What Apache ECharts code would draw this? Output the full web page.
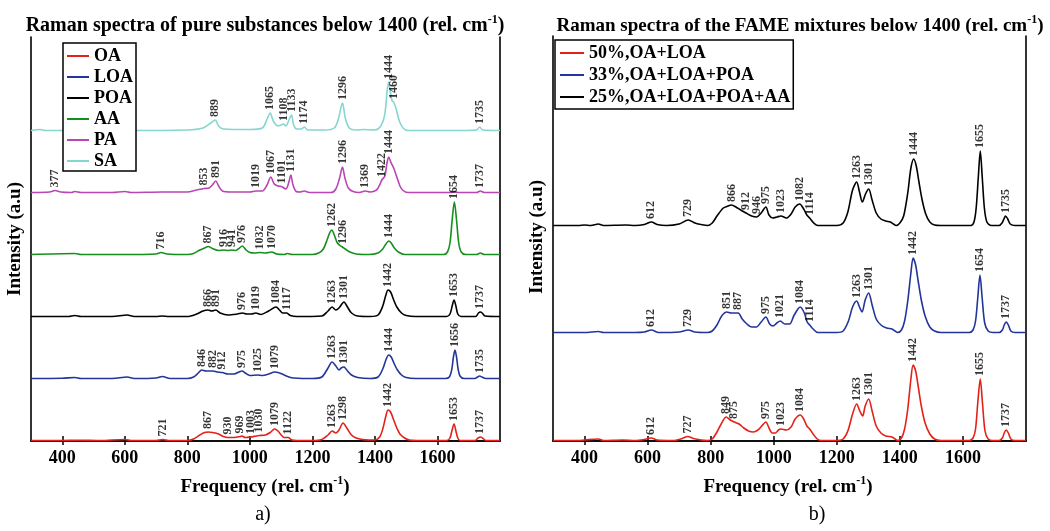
<!DOCTYPE html>
<html><head><meta charset="utf-8">
<script src="https://cdn.jsdelivr.net/npm/echarts@6/dist/echarts.min.js"></script>
<style>html,body{margin:0;padding:0;background:#fff}#c{width:1050px;height:531px}</style>
</head><body><div id="c"></div>
<script>
// ---------- data (intensities in arbitrary units above each curve's baseline) ----------
const TICKS = [400, 600, 800, 1000, 1200, 1400, 1600];

// Panel a) pure substances
const OA = [[300,0.5],[400,0.5],[450,0.8],[520,0.5],[600,1.5],[620,0.5],[700,0.5],[721,1.5],[740,0.5],[800,0.5],[820,2],[840,6],[855,8.5],[867,9],[880,8.5],[900,7],[915,4.5],[930,3.5],[950,3.5],[969,4.5],[975,5],[985,3.5],[1003,4],[1020,5],[1030,5.5],[1050,6],[1065,8.5],[1079,12],[1090,10],[1100,6],[1110,3.5],[1122,3.5],[1135,1],[1150,0.5],[1200,0.5],[1230,1.5],[1250,6],[1263,10],[1275,8],[1285,11],[1298,18],[1310,13],[1325,6],[1340,3],[1360,1.5],[1380,1],[1400,1],[1415,4],[1425,12],[1435,25],[1442,31],[1450,29],[1460,21],[1470,13],[1480,7],[1495,3],[1510,1],[1550,0.5],[1630,0.5],[1640,3],[1646,10],[1653,17],[1659,10],[1665,3],[1672,0.5],[1720,0.5],[1730,3],[1737,4],[1744,3],[1755,0.5],[1800,0.5]];
const LOA = [[300,0.5],[400,0.8],[440,1.5],[460,0.5],[560,0.5],[608,2],[630,0.5],[700,1],[720,2.5],[745,0.5],[800,0.5],[820,2],[835,6],[846,9],[860,8],[882,8],[895,7],[912,6.5],[930,5],[950,5],[965,7],[975,8],[985,6],[1000,3.5],[1025,4],[1040,3.5],[1060,5],[1079,7],[1095,6],[1110,4],[1125,2],[1140,1],[1200,0.5],[1230,2],[1250,11],[1263,17],[1275,13],[1285,9],[1292,11],[1301,12],[1310,9],[1325,4],[1345,1.5],[1385,0.5],[1410,2],[1425,10],[1435,19],[1444,24],[1452,22],[1462,15],[1472,9],[1485,4],[1500,1.5],[1530,0.5],[1625,0.5],[1638,2],[1646,10],[1651,22],[1656,29],[1661,22],[1666,10],[1672,3],[1685,0.5],[1720,0.5],[1728,2],[1735,3],[1742,2],[1755,0.5],[1800,0.5]];
const POA = [[300,0.5],[420,0.5],[440,1.5],[460,0.5],[560,0.5],[608,2],[630,0.5],[700,0.5],[720,1],[740,0.5],[800,0.5],[830,3],[850,6],[866,7],[878,6],[891,7],[905,4],[930,2],[960,3],[976,4],[990,3],[1005,3],[1019,4],[1035,2.5],[1060,6],[1084,10],[1095,7],[1105,4],[1117,4],[1130,1.5],[1150,0.5],[1230,1],[1250,6],[1263,10],[1275,7],[1285,9],[1301,15],[1312,10],[1325,4],[1345,1],[1385,0.5],[1410,2],[1425,11],[1435,22],[1442,27],[1450,25],[1460,17],[1470,10],[1485,4],[1500,1.5],[1530,0.5],[1630,0.5],[1640,3],[1647,11],[1653,17],[1659,11],[1665,3],[1675,0.5],[1722,0.5],[1731,4],[1737,5],[1743,4],[1752,1],[1800,0.5]];
const AA = [[300,0.5],[440,1.5],[460,0.5],[600,0.5],[700,1],[716,2.5],[735,1],[800,0.5],[820,1.5],[840,5],[855,7],[867,8.5],[880,6.5],[900,4.5],[916,5],[930,4.5],[941,5],[955,4.5],[965,6.5],[976,9],[988,5],[1000,2.5],[1015,2],[1032,2.5],[1050,2],[1070,3],[1085,1],[1110,0.5],[1120,1.5],[1135,0.5],[1200,0.5],[1220,2],[1235,6],[1248,16],[1255,22],[1262,25],[1270,20],[1280,12],[1290,9],[1296,8],[1305,6],[1320,3],[1340,1],[1380,0.5],[1410,2],[1425,6],[1435,11],[1444,14],[1452,12],[1462,7],[1475,3],[1495,0.5],[1620,0.5],[1632,3],[1640,12],[1647,35],[1654,53],[1661,35],[1668,12],[1676,3],[1690,0.5],[1725,0.5],[1737,2],[1750,0.5],[1800,0.5]];
const PA = [[300,0.5],[360,1],[377,2.5],[395,1],[430,0.5],[440,1.5],[460,0.5],[560,0.5],[600,1.5],[620,0.5],[720,1],[800,1],[830,3],[853,4.5],[870,5],[880,8],[891,12],[900,7],[912,2],[940,1],[1000,1],[1019,2],[1040,2],[1055,8],[1067,16],[1078,9],[1090,7],[1101,6.5],[1115,4],[1124,10],[1131,18],[1138,8],[1148,1.5],[1160,1],[1174,2],[1190,0.5],[1260,0.5],[1275,4],[1287,15],[1296,26],[1304,15],[1315,5],[1330,1.5],[1350,0.5],[1369,2],[1385,1],[1405,3],[1415,8],[1422,13],[1432,17],[1438,29],[1444,36],[1452,30],[1460,25],[1470,16],[1480,7],[1490,2.5],[1505,0.5],[1640,0.5],[1654,1],[1670,0.5],[1725,0.5],[1737,2],[1750,0.5],[1800,0.5]];
const SA = [[300,0.5],[330,1.5],[345,0.5],[600,0.5],[800,1],[850,3],[875,8],[889,11],[900,5],[915,2],[1000,1.5],[1040,3],[1055,12],[1065,18],[1075,10],[1090,5],[1100,6],[1108,7],[1115,5],[1125,11],[1133,16],[1140,6],[1150,2],[1165,2],[1174,4],[1185,1],[1240,1],[1270,3],[1283,12],[1296,28],[1306,12],[1318,3],[1340,1],[1366,1.5],[1390,1],[1410,2],[1425,9],[1433,20],[1439,40],[1444,49],[1449,40],[1455,30],[1460,29],[1468,22],[1478,10],[1490,3],[1505,0.5],[1650,0.5],[1725,1],[1735,4],[1745,1],[1800,0.5]];

const OA_PEAKS = [721, 867, 930, 969, 1003, 1030, 1079, 1122, 1263, 1298, 1442, 1653, 1737];
const LOA_PEAKS = [846, 882, 912, 975, 1025, 1079, 1263, 1301, 1444, 1656, 1735];
const POA_PEAKS = [866, 891, 976, 1019, 1084, 1117, 1263, 1301, 1442, 1653, 1737];
const AA_PEAKS = [716, 867, 916, 941, 976, 1032, 1070, 1262, 1296, 1444, 1654];
const PA_PEAKS = [377, 853, 891, 1019, 1067, 1101, 1131, 1296, 1369, 1422, 1444, 1737];
const SA_PEAKS = [889, 1065, 1108, 1133, 1174, 1296, 1444, 1460, 1735];

// Panel b) FAME mixtures
const MIX2 = [[300,0.5],[380,0.5],[400,1],[444,2],[460,0.5],[520,1],[560,0.5],[590,1.5],[612,3],[630,1],[680,0.5],[710,2.5],[727,4.5],[745,2.5],[770,1],[790,0.5],[805,2],[820,9],[835,18],[849,24],[862,21],[875,19],[890,17],[905,13],[920,10],[935,9],[950,11],[962,15],[975,19],[985,13],[995,8],[1005,8],[1015,11],[1023,12],[1040,11],[1055,14],[1068,22],[1084,26],[1095,22],[1105,15],[1114,12],[1125,7],[1138,2],[1150,0.5],[1200,0.5],[1220,2],[1235,10],[1250,27],[1263,37],[1273,30],[1282,25],[1290,35],[1301,42],[1312,30],[1325,15],[1340,8],[1355,5],[1375,4],[1385,2],[1393,0.5],[1405,3],[1415,12],[1425,32],[1435,62],[1442,76],[1450,70],[1458,55],[1468,35],[1480,18],[1495,7],[1510,2],[1530,0.5],[1620,0.5],[1632,3],[1640,12],[1647,38],[1655,62],[1662,38],[1670,10],[1680,2],[1695,0.5],[1715,0.5],[1725,3],[1731,8],[1737,11],[1744,8],[1752,2],[1765,0.5],[1800,0.5]];
const MIX3 = [[300,0.5],[400,0.5],[444,1.5],[460,0.5],[560,0.5],[590,1],[612,3],[635,0.5],[700,1],[729,3],[750,1],[790,0.5],[805,2],[820,8],[835,17],[851,21],[865,20],[887,20],[900,14],[915,9],[930,6],[945,6],[960,11],[975,16],[987,9],[998,7],[1010,10],[1021,12],[1035,9],[1050,9],[1065,18],[1084,26],[1097,20],[1106,11],[1114,8],[1125,4],[1140,0.5],[1200,0.5],[1220,2],[1237,12],[1250,26],[1263,32],[1272,26],[1280,21],[1290,33],[1301,40],[1312,28],[1325,14],[1340,8],[1358,5],[1375,4],[1385,2],[1393,0.5],[1405,3],[1415,12],[1425,32],[1435,60],[1442,75],[1450,68],[1458,52],[1468,33],[1480,17],[1495,6],[1510,2],[1530,0.5],[1620,0.5],[1632,3],[1640,12],[1647,35],[1654,58],[1661,35],[1669,10],[1680,2],[1695,0.5],[1715,0.5],[1725,3],[1731,8],[1737,11],[1744,8],[1752,2],[1765,0.5],[1800,0.5]];
const MIX4 = [[300,0.5],[380,0.5],[400,1],[420,0.5],[444,2],[460,0.5],[530,1],[560,0.5],[590,1.5],[612,4],[630,1.5],[660,0.5],[700,2],[729,6],[750,3],[770,1.5],[790,0.5],[805,3],[820,10],[840,18],[855,20],[866,21],[880,19],[895,16],[912,13],[930,10],[946,9],[960,13],[975,19],[985,11],[997,8],[1010,9],[1023,10],[1040,8],[1055,12],[1068,19],[1082,22],[1095,17],[1105,11],[1114,8],[1127,3],[1140,0.5],[1200,0.5],[1220,3],[1235,14],[1250,36],[1263,44],[1272,34],[1281,24],[1291,32],[1301,37],[1312,26],[1325,13],[1340,7],[1355,5],[1370,4],[1380,2],[1388,0.5],[1400,3],[1412,10],[1425,33],[1435,58],[1444,67],[1452,60],[1460,45],[1470,27],[1482,12],[1495,4],[1510,1],[1530,0.5],[1625,0.5],[1635,4],[1642,18],[1649,50],[1655,75],[1661,50],[1668,18],[1676,4],[1690,0.5],[1715,0.5],[1724,3],[1730,7],[1735,10],[1742,7],[1750,2],[1765,0.5],[1800,0.5]];

const MIX2_PEAKS = [612, 727, 849, 875, 975, 1023, 1084, 1263, 1301, 1442, 1655, 1737];
const MIX3_PEAKS = [612, 729, 851, 887, 975, 1021, 1084, 1114, 1263, 1301, 1442, 1654, 1737];
const MIX4_PEAKS = [612, 729, 866, 912, 946, 975, 1023, 1082, 1114, 1263, 1301, 1444, 1655, 1735];

const LEFT_NAMES = ['OA', 'LOA', 'POA', 'AA', 'PA', 'SA'];
const RIGHT_NAMES = ['50%,OA+LOA', '33%,OA+LOA+POA', '25%,OA+LOA+POA+AA'];

// ---------- build ----------
const SERIF = '"Liberation Serif", "Times New Roman", serif';
function valAt(arr, x) {
  for (let i = 0; i < arr.length - 1; i++) {
    const a = arr[i], b = arr[i + 1];
    if (x >= a[0] && x <= b[0]) return a[1] + (b[1] - a[1]) * (x - a[0]) / (b[0] - a[0]);
  }
  return 0;
}
const leftCurves = [
  { name: 'OA', data: OA, peaks: OA_PEAKS, color: '#e32119', off: 0 },
  { name: 'LOA', data: LOA, peaks: LOA_PEAKS, color: '#23349b', off: 62 },
  { name: 'POA', data: POA, peaks: POA_PEAKS, color: '#000000', off: 124 },
  { name: 'AA', data: AA, peaks: AA_PEAKS, color: '#16901c', off: 186 },
  { name: 'PA', data: PA, peaks: PA_PEAKS, color: '#b946b4', off: 248 },
  { name: 'SA', data: SA, peaks: SA_PEAKS, color: '#84d6d0', off: 310 }
];
const rightCurves = [
  { name: RIGHT_NAMES[0], data: MIX2, peaks: MIX2_PEAKS, color: '#e32119', off: 0 },
  { name: RIGHT_NAMES[1], data: MIX3, peaks: MIX3_PEAKS, color: '#23349b', off: 108 },
  { name: RIGHT_NAMES[2], data: MIX4, peaks: MIX4_PEAKS, color: '#000000', off: 215 }
];
const series = [];
function addCurves(curves, idx) {
  curves.forEach(c => {
    series.push({
      type: 'line', name: c.name, xAxisIndex: idx * 2, yAxisIndex: idx * 2,
      data: c.data.map(p => [p[0], p[1] + c.off]),
      symbol: 'none', showSymbol: false, smooth: 0.3, clip: false,
      lineStyle: { color: c.color, width: 1.6 }, itemStyle: { color: c.color },
      z: 3, animation: false
    });
  });
  curves.forEach(c => {
    series.push({
      type: 'scatter', name: c.name + '_labels', xAxisIndex: idx * 2, yAxisIndex: idx * 2,
      data: c.peaks.map(x => [x, valAt(c.data, x) + c.off]),
      symbolSize: 0.1, itemStyle: { color: 'rgba(0,0,0,0)' }, silent: true, z: 4,
      label: {
        show: true, position: 'top', distance: 3, rotate: 90, align: 'left', verticalAlign: 'middle',
        formatter: p => String(p.value[0]),
        fontFamily: SERIF, fontWeight: 'bold', fontSize: 12, color: '#000'
      },
      animation: false
    });
  });
}
addCurves(leftCurves, 0);
addCurves(rightCurves, 1);

const axLine = { show: true, lineStyle: { color: '#000', width: 1.6 } };
function xAxes(grid) {
  return [
    { type: 'value', gridIndex: grid, position: 'bottom', min: 300, max: 1800,
      axisLine: axLine, splitLine: { show: false },
      axisTick: { show: true, inside: true, length: 5, customValues: TICKS, lineStyle: { color: '#000', width: 1.5 } },
      axisLabel: { show: true, customValues: TICKS, margin: 8, color: '#000', fontFamily: SERIF, fontWeight: 'bold', fontSize: 18,
        formatter: v => String(v) } },
    { type: 'value', gridIndex: grid, position: 'top', min: 300, max: 1800,
      axisLine: axLine, splitLine: { show: false },
      axisTick: { show: true, inside: true, length: 4, customValues: TICKS, lineStyle: { color: '#000', width: 1.5 } },
      axisLabel: { show: false } }
  ];
}
function yAxes(grid, max) {
  return [
    { type: 'value', gridIndex: grid, position: 'left', min: 0, max: max, axisLine: axLine,
      axisTick: { show: false }, axisLabel: { show: false }, splitLine: { show: false } },
    { type: 'value', gridIndex: grid, position: 'right', min: 0, max: max, axisLine: axLine,
      axisTick: { show: false }, axisLabel: { show: false }, splitLine: { show: false } }
  ];
}

function supText(x, y, main, size) {
  return { type: 'text', x: x, y: y, z: 10,
    style: { text: '{t|' + main + '}{s|-1}{t|)}', align: 'center', verticalAlign: 'middle',
      rich: { t: { fontFamily: SERIF, fontWeight: 'bold', fontSize: size, lineHeight: 22, fill: '#000', verticalAlign: 'bottom' },
              s: { fontFamily: SERIF, fontWeight: 'bold', fontSize: 12, lineHeight: 12, fill: '#000', verticalAlign: 'top' } } } };
}
function plain(x, y, text, size, bold, rot) {
  return { type: 'text', x: x, y: y, rotation: rot || 0, z: 10,
    style: { text: text, align: 'center', verticalAlign: 'middle', fill: '#000',
      font: (bold ? 'bold ' : '') + size + 'px ' + SERIF } };
}

const legendText = { fontFamily: SERIF, fontWeight: 'bold', fontSize: 18, color: '#000', lineHeight: 18 };
const option = {
  animation: false,
  backgroundColor: '#fff',
  grid: [
    { left: 31, top: 37, width: 469, height: 404 },
    { left: 553, top: 36, width: 473, height: 405 }
  ],
  xAxis: xAxes(0).concat(xAxes(1)),
  yAxis: yAxes(0, 404).concat(yAxes(1, 405)),
  legend: [
    { data: LEFT_NAMES, orient: 'vertical', left: 63, top: 43, icon: 'rect', itemWidth: 22, itemHeight: 2, itemGap: 3,
      padding: [4, 3, 1, 4], backgroundColor: '#fff', borderColor: '#000', borderWidth: 1.5,
      textStyle: legendText, selectedMode: false, z: 8 },
    { data: RIGHT_NAMES, orient: 'vertical', left: 555, top: 40, icon: 'rect', itemWidth: 24, itemHeight: 2, itemGap: 4,
      padding: [4, 3, 3, 5], backgroundColor: '#fff', borderColor: '#000', borderWidth: 1.5,
      textStyle: legendText, selectedMode: false, z: 8 }
  ],
  graphic: [
    supText(265, 25, 'Raman spectra of pure substances below 1400 (rel. cm', 20),
    supText(800, 25, 'Raman spectra of the FAME mixtures below 1400 (rel. cm', 19),
    supText(265, 486, 'Frequency (rel. cm', 19),
    supText(788, 486, 'Frequency (rel. cm', 19),
    plain(15, 239, 'Intensity (a.u)', 19, true, Math.PI / 2),
    plain(537, 237, 'Intensity (a.u)', 19, true, Math.PI / 2),
    plain(263, 515, 'a)', 20, false),
    plain(817, 515, 'b)', 20, false)
  ],
  series: series
};
const chart = echarts.init(document.getElementById('c'), null, { renderer: 'canvas' });
chart.setOption(option);
</script>
</body></html>
